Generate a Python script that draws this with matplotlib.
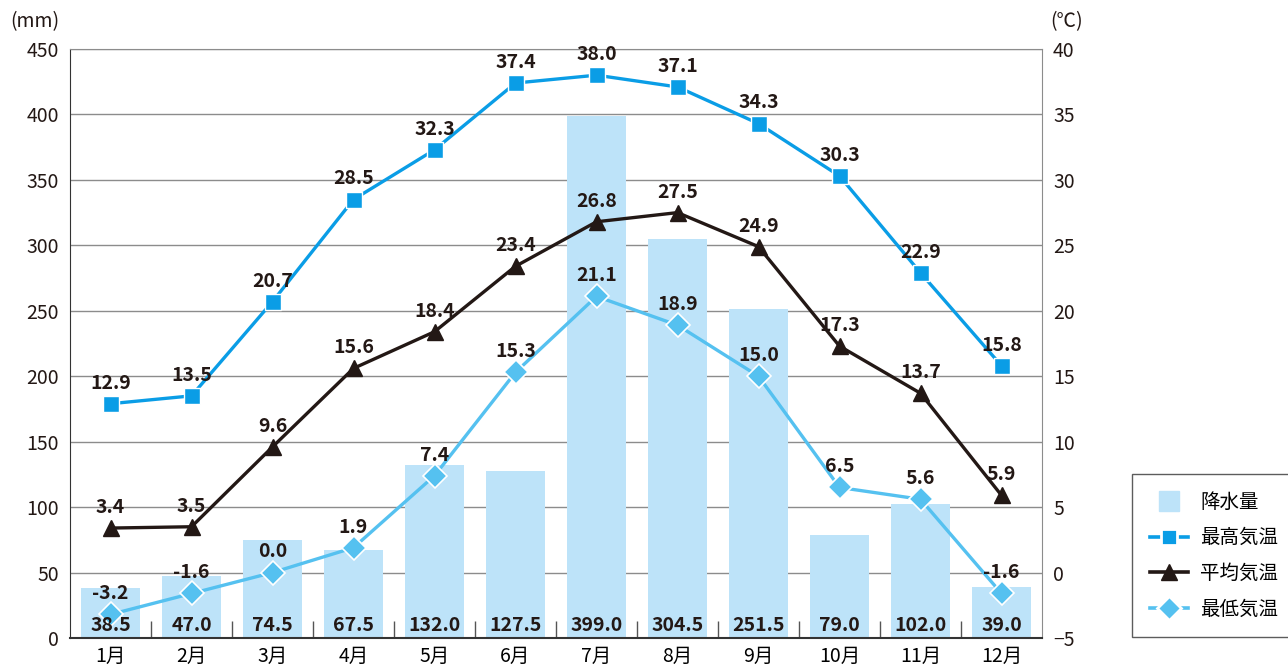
import matplotlib
matplotlib.use('Agg')
import matplotlib.pyplot as plt
from matplotlib.lines import Line2D
from matplotlib.patches import Patch
import numpy as np

plt.rcParams['font.family'] = ['Noto Sans CJK JP', 'DejaVu Sans']

# データ
meses = ['1月', '2月', '3月', '4月', '5月', '6月', '7月', '8月', '9月', '10月', '11月', '12月']
kousui = [38.5, 47.0, 74.5, 67.5, 132.0, 127.5, 399.0, 304.5, 251.5, 79.0, 102.0, 39.0]
saikou = [12.9, 13.5, 20.7, 28.5, 32.3, 37.4, 38.0, 37.1, 34.3, 30.3, 22.9, 15.8]
heikin = [3.4, 3.5, 9.6, 15.6, 18.4, 23.4, 26.8, 27.5, 24.9, 17.3, 13.7, 5.9]
saitei = [-3.2, -1.6, 0.0, 1.9, 7.4, 15.3, 21.1, 18.9, 15.0, 6.5, 5.6, -1.6]

c_bar = '#bde3f9'
c_max = '#0a9de6'
c_avg = '#231815'
c_min = '#55c1f0'

fig = plt.figure(figsize=(12.88, 6.69), dpi=100)
ax = fig.add_axes([70 / 1288, 31 / 669, 972 / 1288, 589 / 669])
ax2 = ax.twinx()

x = np.arange(len(meses))
ax.bar(x, kousui, width=0.73, color=c_bar, zorder=2)
ax.set_xlim(-0.5, 11.5)
ax.set_ylim(0, 450)
ax.set_yticks(range(0, 451, 50))
ax.grid(axis='y', color='#8c8c8c', lw=1, zorder=0)
ax.set_axisbelow(True)
ax.set_xticks(x)
ax.set_xticklabels(meses, fontsize=14)
ax.tick_params(axis='x', length=0, pad=6)
ax.set_xticks(np.arange(0.5, 11.5, 1), minor=True)
ax.tick_params(axis='x', which='minor', direction='in', length=12, width=1, color='#555555')
ax.tick_params(axis='y', length=0, labelsize=14, pad=8, colors='#231815')
for s in ['top', 'right']:
    ax.spines[s].set_color('#8c8c8c')
ax.spines['left'].set_color('#333333')
ax.spines['bottom'].set_color('#333333')
ax.spines['bottom'].set_linewidth(1.5)

ax2.set_ylim(-5, 40)
ax2.set_yticks(range(-5, 41, 5))
ax2.tick_params(axis='y', length=0, labelsize=14, pad=8, colors='#231815')
for s in ax2.spines.values():
    s.set_visible(False)

ax2.plot(x, saikou, color=c_max, lw=2.4, marker='s', ms=12, mec='white', mew=1, zorder=5)
ax2.plot(x, heikin, color=c_avg, lw=2.4, marker='^', ms=12, mec=c_avg, zorder=5)
ax2.plot(x, saitei, color=c_min, lw=2.4, marker='D', ms=12, mec='white', mew=1.2, zorder=5)

# 数値ラベル
for serie in [saikou, heikin, saitei]:
    for i, v in enumerate(serie):
        ax2.annotate(f'{v:.1f}', (i, v), xytext=(0, 8), textcoords='offset points',
                     ha='center', va='bottom', fontsize=14, fontweight='bold',
                     color='#231815', zorder=6)
# 降水量のラベル (ax2 の上に描くため、0mm = -5℃ の位置)
for i, v in enumerate(kousui):
    ax2.annotate(f'{v:.1f}', (i, -5), xytext=(0, 9), textcoords='offset points',
                 ha='center', va='center', fontsize=14, fontweight='bold',
                 color='#231815', zorder=7)

fig.text(10 / 1288, 1 - 22 / 669, '(mm)', fontsize=14, va='center', ha='left', color='#231815')
fig.text(1050 / 1288, 1 - 22 / 669, '(℃)', fontsize=14, va='center', ha='left', color='#231815')

handles = [
    Line2D([], [], ls='none', marker='s', ms=15, color=c_bar, mec=c_bar),
    Line2D([], [], color=c_max, lw=2.6, marker='s', ms=11, mec='white', mew=2),
    Line2D([], [], color=c_avg, lw=2.6, marker='^', ms=12, mec=c_avg),
    Line2D([], [], color=c_min, lw=2.6, marker='D', ms=12, mec='white', mew=2),
]
leg = fig.legend(handles, ['降水量', '最高気温', '平均気温', '最低気温'],
                 loc='lower left', bbox_to_anchor=(1132 / 1288, 32 / 669),
                 fontsize=14, frameon=True, fancybox=False, edgecolor='#333333',
                 borderaxespad=0, handlelength=2.0, labelspacing=0.75, borderpad=0.9,
                 handletextpad=0.6)
leg.get_frame().set_linewidth(1)

fig.savefig('out.png', dpi=100)
